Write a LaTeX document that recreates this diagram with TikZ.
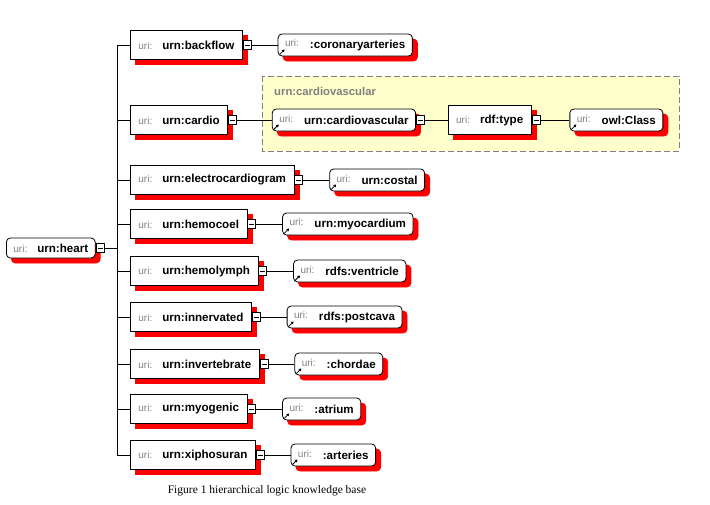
\documentclass[tikz,border=0pt]{standalone}
\usepackage{fontspec}
\setmainfont{Liberation Serif}
\setsansfont{Liberation Sans}
\usetikzlibrary{positioning, arrows.meta}

\definecolor{urigray}{RGB}{128,128,128}
\definecolor{shadowgray}{RGB}{255,0,0}
\definecolor{groupfill}{RGB}{255,255,204}
\definecolor{groupline}{RGB}{128,128,128}

\newcommand{\uritext}[1]{{\fontsize{10}{12}\selectfont\color{urigray}uri:}\hspace{10pt}{\fontsize{11.6}{13}\selectfont\bfseries #1}}
\newcommand{\urileaf}[1]{\raisebox{2.7pt}{\fontsize{10}{12}\selectfont\color{urigray}uri:}\hspace{11pt}{\fontsize{11.6}{13}\selectfont\bfseries #1}}

\tikzset{
	box/.style = {draw, fill=white, line width=0.8pt, font=\sffamily, inner xsep=8pt, inner ysep=0pt,
		minimum height=29pt, anchor=west},
	rootbox/.style = {box, rounded corners=4pt, minimum height=20pt, inner xsep=7pt},
	leafshape/.style = {box, rounded corners=4pt, minimum height=22pt, inner xsep=7pt},
	leafbox/.style = {leafshape,
		path picture={\draw[line width=0.8pt, -{Triangle[length=2.5pt, width=3pt]}]
			([shift={(1.5pt,1.5pt)}]path picture bounding box.south west) -- ++(5pt,5pt);}},
	minus/.style = {draw, fill=white, line width=0.8pt, minimum width=8pt, minimum height=9pt, inner sep=0pt,
		path picture={\draw[line width=0.8pt] ([xshift=1.5pt]path picture bounding box.west)
			-- ([xshift=-1.5pt]path picture bounding box.east);}},
	shadowcopy/.style = {fill=shadowgray, draw=shadowgray, xshift=5pt, yshift=-5pt},
	link/.style = {line width=0.8pt},
	group/.style = {draw=groupline, fill=groupfill, dashed, dash pattern=on 6pt off 3pt, line width=0.8pt},
	grouptitle/.style = {font=\sffamily\bfseries\fontsize{11.3}{13}\selectfont, text=urigray, anchor=west, inner sep=0pt}
}

\begin{document}
\begin{tikzpicture}[x=1pt, y=-1pt]
	\useasboundingbox (0,0) rectangle (710,504);

	% group around urn:cardiovascular
	\draw [group] (262,76) rectangle (679,151);
	\node [grouptitle] (cvtitle) at (274,91) {urn:cardiovascular};

	% root
	\node [rootbox, shadowcopy] (heart-s) at (6,248) {\phantom{\uritext{urn:heart}}};
	\node [rootbox] (heart) at (6,248) {\uritext{urn:heart}};
	\node [minus, right=0pt of heart] (heart-m) {};
	\draw [link] (heart-m.east) -- ++(13pt,0) coordinate (trunk);

	% children and their values
	\foreach \n/\name/\y/\gap/\leaf in {bf/backflow/45/26pt/:coronaryarteries,
		cd/cardio/120/35pt/urn:cardiovascular, ec/electrocardiogram/180/26pt/urn:costal,
		hc/hemocoel/224/26pt/urn:myocardium, hl/hemolymph/271/26pt/rdfs:ventricle,
		nv/innervated/317/26pt/rdfs:postcava, iv/invertebrate/364/26pt/:chordae,
		mg/myogenic/409/26pt/:atrium, xs/xiphosuran/455/26pt/:arteries} {
		\node [box, shadowcopy] (\n-s) at (130,\y) {\phantom{\uritext{urn:\name}}};
		\node [box] (\n) at (130,\y) {\uritext{urn:\name}};
		\node [minus, right=0pt of \n] (\n-m) {};
		\node [leafshape, shadowcopy, right=\gap of \n-m] (\n-ls) {\phantom{\urileaf{\leaf}}};
		\node [leafbox, right=\gap of \n-m] (\n-l) {\urileaf{\leaf}};
		\draw [link] (\n-m) -- (\n-l);
		\draw [link] (trunk |- \n.west) -- (\n);
	}
	\draw [link] (trunk |- bf.west) -- (trunk |- xs.west);

	% rdf:type chain
	\node [minus, right=0pt of cd-l] (cd-lm) {};
	\node [box, shadowcopy, right=23pt of cd-lm] (type-s) {\phantom{\uritext{rdf:type}}};
	\node [box, right=23pt of cd-lm] (type) {\uritext{rdf:type}};
	\node [minus, right=0pt of type] (type-m) {};
	\node [leafshape, shadowcopy, right=29pt of type-m] (class-s) {\phantom{\urileaf{owl:Class}}};
	\node [leafbox, right=29pt of type-m] (class) {\urileaf{owl:Class}};
	\draw [link] (cd-lm) -- (type);
	\draw [link] (type-m) -- (class);

	\node [font=\fontsize{11.5}{13}\selectfont] (caption) at (267,491) {Figure 1 hierarchical logic knowledge base};
\end{tikzpicture}
\end{document}
